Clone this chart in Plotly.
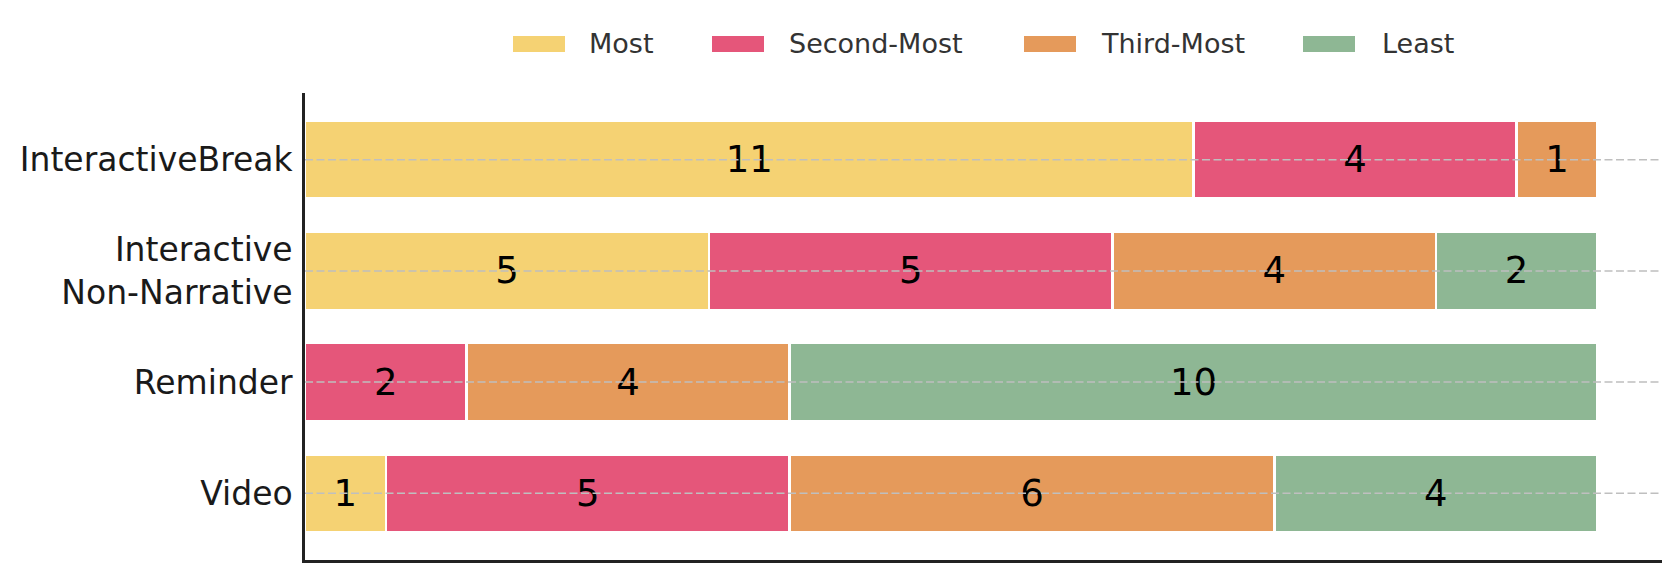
import plotly.graph_objects as go

categories = ["InteractiveBreak", "Interactive<br>Non-Narrative", "Reminder", "Video"]
series_names = ["Most", "Second-Most", "Third-Most", "Least"]
most = [11, 5, 0, 1]
second_most = [4, 5, 2, 5]
third_most = [1, 4, 4, 6]
least = [0, 2, 10, 4]
colors = ["#F5D273", "#E5567A", "#E59A5B", "#8EB794"]

series_values = [most, second_most, third_most, least]

# ---- layout geometry (pixels in the figure) ----
W, H = 1679, 580
ML, MR, MT, MB = 297, 25, 85, 28
PW, PH = W - ML - MR, H - MT - MB


def px_x(px):
    return (px - ML) / PW


def px_y(py):
    return (H - MB - py) / PH


fig = go.Figure()
for name, vals, col in zip(series_names, series_values, colors):
    fig.add_trace(go.Bar(
        y=categories, x=vals, name=name, orientation="h",
        marker=dict(color=col, line=dict(color="white", width=2.5)),
        width=0.7,
        text=[str(v) if v else "" for v in vals],
        textposition="inside", insidetextanchor="middle",
        textfont=dict(family="DejaVu Sans", size=37, color="black"),
        constraintext="none",
        hoverinfo="x+y+name",
        showlegend=False,
    ))

# dashed category gridlines drawn above the bars
for c in categories:
    fig.add_shape(type="line", xref="paper", x0=0, x1=1, yref="y", y0=c, y1=c,
                  line=dict(color="#BFBFBF", width=1.5, dash="8px,3.5px"), layer="above")

# legend (patches + labels) above the plot
legend_patch_left = [505, 704, 1016, 1295]
legend_text_left = [580, 780, 1092, 1373]
patch_w, patch_top, patch_bot, text_mid = 52, 28, 44, 35
for name, col, pl, tl in zip(series_names, colors, legend_patch_left, legend_text_left):
    fig.add_shape(type="rect", xref="paper", yref="paper",
                  x0=px_x(pl), x1=px_x(pl + patch_w), y0=px_y(patch_bot), y1=px_y(patch_top),
                  fillcolor=col, line=dict(width=0), layer="above")
    fig.add_annotation(xref="paper", yref="paper", x=px_x(tl), y=px_y(text_mid),
                       xanchor="left", yanchor="middle", text=name, showarrow=False,
                       font=dict(family="DejaVu Sans", size=27, color="#333333"),
                       borderpad=0)

fig.update_layout(
    barmode="stack",
    width=W, height=H,
    margin=dict(l=ML, r=MR, t=MT, b=MB, autoexpand=False),
    paper_bgcolor="white", plot_bgcolor="white",
    font=dict(family="DejaVu Sans", color="#222222"),
    showlegend=False,
    xaxis=dict(range=[0, 16.8], showgrid=False, zeroline=False, showticklabels=False,
               ticks="", showline=True, linecolor="#222222", linewidth=2.5,
               automargin=False),
    yaxis=dict(type="category", range=[3.6, -0.6], showgrid=False, zeroline=False,
               ticks="", ticklabelstandoff=3, tickfont=dict(size=33, color="#1A1A1A"),
               showline=True, linecolor="#222222", linewidth=2.5, automargin=False),
)

fig.write_html("out.html")
